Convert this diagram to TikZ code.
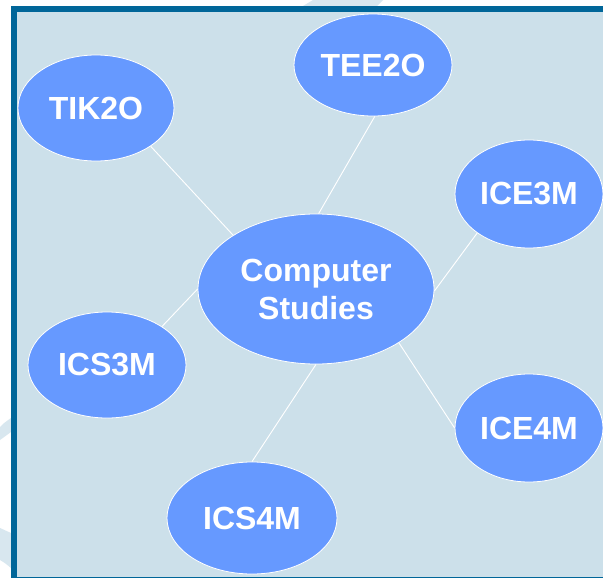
\documentclass[tikz,border=0pt]{standalone}
\usepackage{fontspec}
\setmainfont{Liberation Sans}
\definecolor{framec}{HTML}{006699}
\definecolor{bgc}{HTML}{CCE0EA}
\definecolor{bandc}{HTML}{D8E7EF}
\definecolor{nodec}{HTML}{6699FF}
\tikzset{
  course/.style={ellipse, fill=nodec, draw=white, line width=0.6pt, inner sep=0pt,
    text=white, font=\fontsize{24}{28.5}\selectfont\bfseries, align=center},
  link/.style={draw=white, line width=0.7pt}
}
\usetikzlibrary{shapes.geometric}
\begin{document}
\begin{tikzpicture}[x=0.75pt,y=-0.75pt]
\useasboundingbox (0,0) rectangle (603,578);
\fill[white] (0,0) rectangle (603,578);
% faint background swooshes outside the frame
\fill[bandc] (303,6) -- (313,0) -- (383,0) -- (377,6) -- cycle;
\fill[bandc] (0,427) .. controls (4,423) .. (11,418) -- (11,432) .. controls (5,436) .. (0,440) -- cycle;
\fill[bandc] (0,528) .. controls (5,530) .. (11,533) -- (11,568) .. controls (5,563) .. (0,560) -- cycle;
% frame
\fill[bgc] (17,12) rectangle (603,577);
\fill[framec] (11,6) rectangle (603,12);
\fill[framec] (11,6) rectangle (17,578);
\fill[framec] (11,576.5) rectangle (603,578);
% nodes
\node[course, minimum width=236*0.75pt, minimum height=150*0.75pt] (cs) at (316,289) {Computer\\Studies};
\node[course, minimum width=156*0.75pt, minimum height=106*0.75pt] (tik) at (96,108) {TIK2O};
\node[course, minimum width=158*0.75pt, minimum height=102*0.75pt] (tee) at (373,65) {TEE2O};
\node[course, minimum width=148*0.75pt, minimum height=108*0.75pt] (ice3) at (529,194) {ICE3M};
\node[course, minimum width=158*0.75pt, minimum height=106*0.75pt] (ics3) at (107,365) {ICS3M};
\node[course, minimum width=148*0.75pt, minimum height=108*0.75pt] (ice4) at (529,428) {ICE4M};
\node[course, minimum width=170*0.75pt, minimum height=112*0.75pt] (ics4) at (252,518) {ICS4M};
% connectors
\draw[link] (tik.-35) -- (cs.147);
\draw[link] (tee.-88) -- (cs.88);
\draw[link] (ice3.-143) -- (cs.-1);
\draw[link] (ics3.35) -- (cs.180);
\draw[link] (ice4.180) -- (cs.-33);
\draw[link] (ics4.90) -- (cs.-90);
\end{tikzpicture}
\end{document}
